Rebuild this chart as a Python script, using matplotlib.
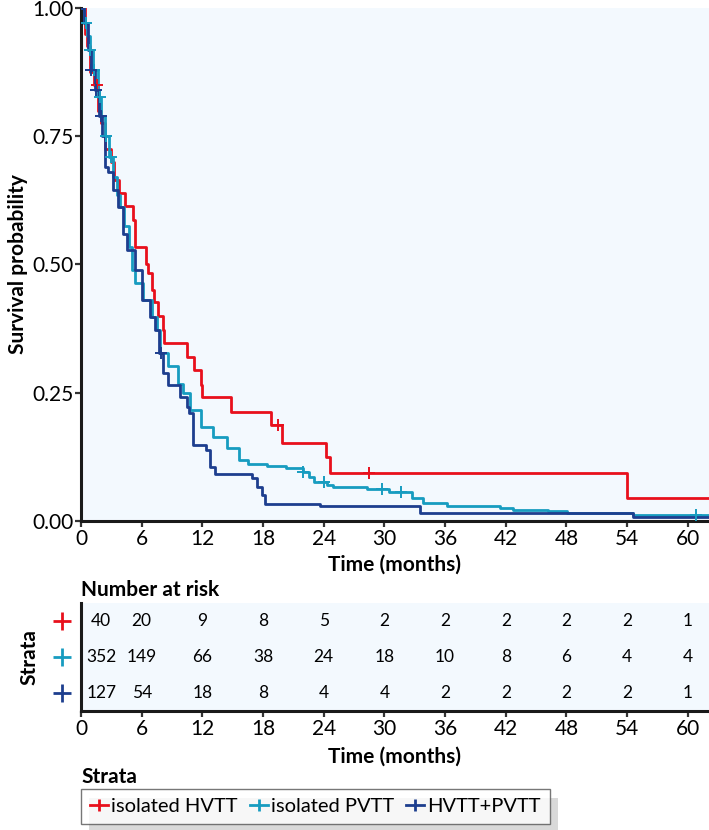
import numpy as np
import matplotlib.pyplot as plt
from matplotlib.lines import Line2D
from matplotlib.patches import Rectangle

plt.rcParams['font.family'] = ['Lato', 'DejaVu Sans']

# groupes
groupes = ["isolated HVTT", "isolated PVTT", "HVTT+PVTT"]
couleurs = ["#E8101C", "#179CC0", "#1D3E8E"]

# courbes de Kaplan-Meier (temps en mois, survie apres la marche)
hvtt_t = [0, 0.4, 0.6, 0.9, 1.3, 1.7, 2.0, 2.4, 3.0, 3.3, 3.8, 4.4, 5.1, 5.3, 6.4, 6.6, 7.0,
          7.2, 7.6, 8.1, 8.2, 10.5, 11.2, 11.9, 12.0, 14.8, 18.8, 19.9, 24.2, 24.6, 54.0]
hvtt_s = [1.0, 0.95, 0.925, 0.875, 0.85, 0.80, 0.775, 0.725, 0.70, 0.665, 0.64, 0.615, 0.587,
          0.534, 0.50, 0.483, 0.45, 0.427, 0.40, 0.372, 0.347, 0.32, 0.294, 0.265, 0.241,
          0.213, 0.187, 0.153, 0.124, 0.093, 0.045]
hvtt_cens = [1.6, 19.5, 28.5]

pvtt_t = [0, 0.3, 0.6, 0.9, 1.2, 1.7, 2.0, 2.4, 2.8, 3.2, 3.6, 3.9, 4.3, 4.7, 5.0, 5.3, 6.1,
          7.0, 7.5, 7.8, 8.6, 9.6, 10.1, 10.8, 11.9, 13.1, 14.4, 15.6, 16.5, 18.4, 20.3, 22.0,
          22.5, 23.0, 24.3, 24.9, 28.3, 30.5, 32.7, 33.8, 36.2, 41.4, 42.7, 46.2, 48.1, 54.6]
pvtt_s = [1.0, 0.97, 0.945, 0.918, 0.88, 0.827, 0.79, 0.75, 0.71, 0.67, 0.635, 0.612, 0.575,
          0.535, 0.49, 0.463, 0.43, 0.398, 0.372, 0.327, 0.303, 0.268, 0.249, 0.216, 0.183,
          0.163, 0.143, 0.118, 0.112, 0.108, 0.103, 0.095, 0.086, 0.076, 0.070, 0.066, 0.063,
          0.056, 0.045, 0.035, 0.030, 0.026, 0.022, 0.019, 0.015, 0.011]
pvtt_cens = [0.5, 0.9, 1.3, 1.9, 2.5, 3.0, 22.0, 24.0, 29.8, 31.6, 60.8]

both_t = [0, 0.3, 0.7, 1.0, 1.4, 1.8, 2.1, 2.4, 2.7, 3.2, 3.7, 4.2, 4.5, 5.3, 6.0, 6.8, 7.3,
          7.7, 8.1, 8.6, 9.8, 10.5, 10.7, 11.1, 12.4, 12.8, 13.3, 16.9, 17.4, 17.9, 18.2, 23.6,
          33.5, 54.6]
both_s = [1.0, 0.97, 0.918, 0.88, 0.84, 0.79, 0.75, 0.69, 0.68, 0.645, 0.612, 0.56, 0.528,
          0.489, 0.43, 0.398, 0.372, 0.327, 0.288, 0.265, 0.241, 0.222, 0.21, 0.148, 0.138,
          0.105, 0.092, 0.083, 0.066, 0.050, 0.033, 0.030, 0.015, 0.008]
both_cens = [1.0, 1.5, 2.0, 7.9]

# nombre de sujets a risque
mois = [0, 6, 12, 18, 24, 30, 36, 42, 48, 54, 60]
risque_hvtt = [40, 20, 9, 8, 5, 2, 2, 2, 2, 2, 1]
risque_pvtt = [352, 149, 66, 38, 24, 18, 10, 8, 6, 4, 4]
risque_both = [127, 54, 18, 8, 4, 4, 2, 2, 2, 2, 1]

courbes = [(hvtt_t, hvtt_s, hvtt_cens), (pvtt_t, pvtt_s, pvtt_cens), (both_t, both_s, both_cens)]
risques = [risque_hvtt, risque_pvtt, risque_both]

fond = "#F3F9FE"
xmax = 62.1

fig = plt.figure(figsize=(7.09, 8.30), dpi=100)
ax = fig.add_axes([81/709, 1 - 521/830, 628/709, 513/830])
tab = fig.add_axes([81/709, 1 - 711/830, 628/709, 108/830])


def style_axe(a):
    a.set_facecolor(fond)
    for c in ["top", "right"]:
        a.spines[c].set_visible(False)
    for c in ["left", "bottom"]:
        a.spines[c].set_linewidth(2.2)
        a.spines[c].set_color("#1a1a1a")
    a.tick_params(length=4.5, width=1.6, color="#333333", labelsize=15, pad=1)
    a.set_xlim(0, xmax)
    a.set_xticks(mois)


# Courbes de survie
style_axe(ax)
for (t, s, cens), coul in zip(courbes, couleurs):
    t = np.array(t + [xmax])
    s = np.array(s + [s[-1]])
    ax.step(t, s, where="post", color=coul, lw=2.0, zorder=3)
    idx = np.searchsorted(t, cens, side="right") - 1
    ax.plot(cens, s[idx], ls="none", marker="+", ms=9, mew=1.4, color=coul, zorder=4)

ax.set_ylim(0, 1)
ax.set_yticks([0, 0.25, 0.5, 0.75, 1.0])
ax.set_yticklabels(["0.00", "0.25", "0.50", "0.75", "1.00"])
ax.set_xlabel("Time (months)", fontsize=15, fontweight="bold", labelpad=4)
ax.set_ylabel("Survival probability", fontsize=15, fontweight="bold", labelpad=3)

# Tableau du nombre a risque
style_axe(tab)
tab.set_ylim(0.5, 3.5)
tab.set_yticks([])
for i, (vals, coul) in enumerate(zip(risques, couleurs)):
    y = 3 - i
    for m, v in zip(mois, vals):
        tab.text(max(m, 2), y, str(v), ha="center", va="center", fontsize=12.5,
                 family=["Liberation Sans Narrow", "Lato", "DejaVu Sans"])
    tab.plot([-0.03], [y], transform=tab.get_yaxis_transform(), marker="+", ms=13,
             mew=2.0, color=coul, clip_on=False)
tab.set_xlabel("Time (months)", fontsize=15, fontweight="bold", labelpad=6)
tab.set_ylabel("Strata", fontsize=15, fontweight="bold", labelpad=30)
tab.set_title("Number at risk", loc="left", fontsize=15, fontweight="bold", pad=5)

# Legende
fig.text(81/709, 1 - 777/830, "Strata", fontsize=15, fontweight="bold", va="center")
poignees = [Line2D([], [], color=c, lw=2.0, marker="|", ms=9, mew=2.0) for c in couleurs]
leg = fig.legend(poignees, groupes, loc="upper left", bbox_to_anchor=(81/709, 1 - 789/830),
                 ncol=3, frameon=True, fancybox=False, edgecolor="#555555", fontsize=14.5,
                 handlelength=0.9, handletextpad=0.15, columnspacing=0.6, borderpad=0.45,
                 borderaxespad=0)
leg.get_frame().set_linewidth(1.0)

fig.canvas.draw()
bb = leg.get_window_extent().transformed(fig.transFigure.inverted())
fig.patches.append(Rectangle((bb.x0 + 8/709, bb.y0 - 9/830), bb.width, bb.height,
                             transform=fig.transFigure, facecolor="#d9d9d9",
                             edgecolor="none", zorder=0))

plt.savefig("out.png", dpi=100)
